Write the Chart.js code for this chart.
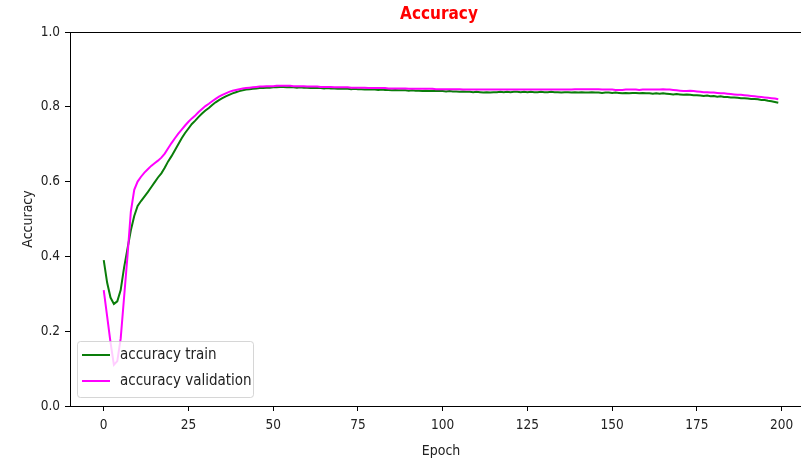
<!DOCTYPE html>
<html>
<head>
<meta charset="utf-8">
<script src="https://cdn.jsdelivr.net/npm/chart.js@4"></script>
<style>
  html, body { margin: 0; padding: 0; background: #fff; overflow: hidden; }
  #wrap { width: 812px; height: 460px; }
</style>
</head>
<body>
<div id="wrap"><canvas id="accChart"></canvas></div>
<script>
const epochs = Array.from({ length: 200 }, (_, i) => i);

const accTrain = [
  0.390,0.330,0.290,0.273,0.280,0.310,0.370,0.420,0.470,0.508,
  0.535,0.548,0.560,0.572,0.585,0.598,0.611,0.622,0.637,0.654,
  0.668,0.684,0.700,0.716,0.730,0.742,0.754,0.763,0.773,0.782,
  0.790,0.797,0.805,0.812,0.818,0.823,0.828,0.832,0.836,0.839,
  0.842,0.844,0.846,0.847,0.848,0.849,0.850,0.850,0.851,0.851,
  0.852,0.852,0.853,0.853,0.852,0.853,0.852,0.851,0.852,0.851,
  0.851,0.850,0.851,0.850,0.850,0.849,0.850,0.849,0.849,0.848,
  0.849,0.848,0.848,0.847,0.848,0.847,0.847,0.846,0.847,0.846,
  0.846,0.845,0.846,0.845,0.845,0.844,0.845,0.844,0.844,0.844,
  0.843,0.844,0.843,0.843,0.842,0.843,0.842,0.843,0.842,0.842,
  0.842,0.841,0.842,0.841,0.841,0.840,0.841,0.840,0.840,0.839,
  0.840,0.839,0.838,0.839,0.838,0.839,0.839,0.840,0.839,0.840,
  0.839,0.840,0.840,0.839,0.840,0.839,0.840,0.839,0.839,0.840,
  0.839,0.839,0.840,0.839,0.839,0.838,0.839,0.839,0.838,0.839,
  0.838,0.839,0.838,0.838,0.839,0.838,0.838,0.837,0.838,0.838,
  0.837,0.838,0.837,0.836,0.837,0.836,0.837,0.837,0.836,0.837,
  0.836,0.836,0.835,0.836,0.835,0.836,0.835,0.834,0.833,0.834,
  0.833,0.832,0.833,0.832,0.831,0.831,0.830,0.829,0.830,0.828,
  0.829,0.827,0.828,0.826,0.826,0.825,0.825,0.824,0.823,0.823,
  0.822,0.821,0.821,0.820,0.818,0.818,0.816,0.815,0.813,0.811
];

const accVal = [
  0.310,0.240,0.170,0.110,0.120,0.180,0.290,0.400,0.520,0.578,
  0.600,0.613,0.624,0.633,0.642,0.649,0.656,0.664,0.675,0.689,
  0.703,0.716,0.728,0.739,0.750,0.760,0.769,0.777,0.786,0.794,
  0.802,0.808,0.815,0.821,0.827,0.832,0.836,0.840,0.843,0.845,
  0.847,0.849,0.850,0.851,0.852,0.853,0.854,0.854,0.855,0.855,
  0.855,0.856,0.856,0.856,0.856,0.856,0.855,0.855,0.855,0.855,
  0.854,0.854,0.854,0.854,0.853,0.853,0.853,0.853,0.852,0.852,
  0.852,0.852,0.852,0.851,0.851,0.851,0.851,0.851,0.850,0.850,
  0.850,0.850,0.850,0.850,0.849,0.849,0.849,0.849,0.849,0.849,
  0.848,0.848,0.848,0.848,0.848,0.848,0.848,0.848,0.847,0.847,
  0.847,0.847,0.847,0.847,0.847,0.847,0.846,0.846,0.846,0.846,
  0.846,0.846,0.846,0.846,0.846,0.846,0.846,0.846,0.846,0.846,
  0.846,0.846,0.846,0.846,0.846,0.846,0.846,0.846,0.846,0.846,
  0.846,0.846,0.846,0.846,0.846,0.846,0.846,0.846,0.846,0.847,
  0.847,0.847,0.847,0.847,0.847,0.847,0.847,0.846,0.846,0.846,
  0.846,0.845,0.845,0.845,0.846,0.846,0.846,0.846,0.845,0.846,
  0.846,0.846,0.846,0.846,0.846,0.847,0.846,0.846,0.845,0.844,
  0.843,0.842,0.842,0.843,0.842,0.841,0.840,0.839,0.839,0.838,
  0.838,0.837,0.836,0.836,0.835,0.834,0.833,0.832,0.832,0.831,
  0.830,0.829,0.828,0.827,0.826,0.825,0.824,0.823,0.822,0.820
];

const xTicks = [0, 25, 50, 75, 100, 125, 150, 175, 200];
const yTicks = [0.0, 0.2, 0.4, 0.6, 0.8, 1.0];

const FONT = "'DejaVu Sans Condensed', 'Liberation Sans Narrow', 'DejaVu Sans', sans-serif";

// box around the plot + title, like matplotlib
const framePlugin = {
    id: 'frame',
    afterDraw(chart) {
        const { ctx, chartArea } = chart;
        ctx.save();
        ctx.strokeStyle = '#000';
        ctx.lineWidth = 1;
        ctx.strokeRect(chartArea.left + 0.5, chartArea.top + 0.5,
                       chartArea.right - chartArea.left, chartArea.bottom - chartArea.top);
        ctx.fillStyle = '#ff0000';
        ctx.font = 'bold 17px ' + FONT;
        ctx.textAlign = 'center';
        ctx.textBaseline = 'middle';
        ctx.fillText('Accuracy', (chartArea.left + chartArea.right) / 2 - 2, 15);
        ctx.restore();
    }
};

// legend in the lower left corner of the plot
const innerLegend = {
    id: 'innerLegend',
    afterDatasetsDraw(chart) {
        const { ctx, chartArea } = chart;
        const x = chartArea.left + 7, y = chartArea.bottom - 65, w = 176, h = 56;
        ctx.save();
        ctx.fillStyle = 'rgba(255,255,255,0.8)';
        ctx.strokeStyle = 'rgba(204,204,204,0.8)';
        ctx.lineWidth = 1;
        ctx.beginPath();
        ctx.roundRect(x + 0.5, y + 0.5, w, h, 3);
        ctx.fill();
        ctx.stroke();
        ctx.font = '15px ' + FONT;
        ctx.textBaseline = 'middle';
        chart.data.datasets.forEach((ds, i) => {
            const ly = y + 14 + i * 26;
            ctx.strokeStyle = ds.borderColor;
            ctx.lineWidth = 2;
            ctx.beginPath();
            ctx.moveTo(x + 5, ly);
            ctx.lineTo(x + 33, ly);
            ctx.stroke();
            ctx.fillStyle = '#222';
            ctx.fillText(ds.label, x + 43, ly);
        });
        ctx.restore();
    }
};

new Chart(document.getElementById('accChart'), {
    type: 'line',
    data: {
        labels: epochs,
        datasets: [{
            label: 'accuracy train',
            data: accTrain,
            borderColor: '#0a7d0a',
            borderWidth: 2,
            pointRadius: 0,
            tension: 0,
            order: 2
        }, {
            label: 'accuracy validation',
            data: accVal,
            borderColor: '#ff00ff',
            borderWidth: 2,
            pointRadius: 0,
            tension: 0,
            order: 1
        }]
    },
    options: {
        responsive: true,
        maintainAspectRatio: false,
        animation: false,
        layout: { padding: { top: 32, right: 0, left: 0, bottom: 0 } },
        plugins: {
            legend: { display: false },
            title: { display: false },
            tooltip: { enabled: false }
        },
        scales: {
            x: {
                type: 'linear',
                min: -9.95,
                max: 208.95,
                afterBuildTicks: (scale) => { scale.ticks = xTicks.map(v => ({ value: v })); },
                afterFit: (scale) => { scale.height = 54; },
                grid: { drawOnChartArea: false, drawTicks: true, tickLength: 5, color: '#000' },
                border: { display: true, color: '#000' },
                ticks: { color: '#222', font: { family: FONT, size: 13.5 }, padding: 6, maxRotation: 0 },
                title: { display: true, text: 'Epoch', color: '#222', font: { family: FONT, size: 14 }, padding: { top: 0, bottom: 0 } }
            },
            y: {
                min: 0,
                max: 1,
                afterBuildTicks: (scale) => { scale.ticks = yTicks.map(v => ({ value: v })); },
                afterFit: (scale) => { scale.width = 70; },
                grid: { drawOnChartArea: false, drawTicks: true, tickLength: 5, color: '#000' },
                border: { display: true, color: '#000' },
                ticks: {
                    color: '#222',
                    font: { family: FONT, size: 13.5 },
                    padding: 5,
                    callback: (v) => Number(v).toFixed(1)
                },
                title: { display: true, text: 'Accuracy', color: '#222', font: { family: FONT, size: 14 }, padding: { top: 20, bottom: 0 } }
            }
        }
    },
    plugins: [framePlugin, innerLegend]
});
</script>
</body>
</html>
